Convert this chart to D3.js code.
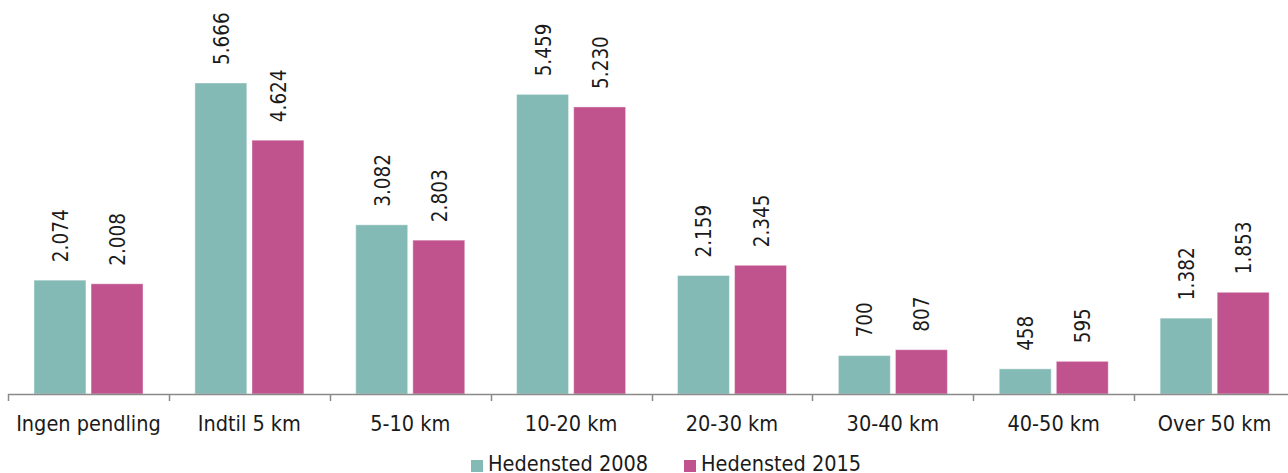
<!DOCTYPE html>
<html><head><meta charset="utf-8">
<script src="https://cdn.jsdelivr.net/npm/d3@7"></script>
<style>
html,body{margin:0;padding:0;background:#fff;}
svg text{font-family:"DejaVu Sans Condensed","DejaVu Sans",sans-serif;fill:#1a1a1a;}
</style></head>
<body>
<svg id="chart" width="1288" height="473"></svg>
<script>
const categories = ["Ingen pendling","Indtil 5 km","5-10 km","10-20 km","20-30 km","30-40 km","40-50 km","Over 50 km"];
const seriesNames = ["Hedensted 2008","Hedensted 2015"];
const values2008 = [2074,5666,3082,5459,2159,700,458,1382];
const values2015 = [2008,4624,2803,5230,2345,807,595,1853];
const valueLabels2008 = ["2.074","5.666","3.082","5.459","2.159","700","458","1.382"];
const valueLabels2015 = ["2.008","4.624","2.803","5.230","2.345","807","595","1.853"];
const colors = ["#84bab5","#c0538e"];

const svg = d3.select("#chart");
const baseY = 394;
const x = d3.scaleBand().domain(categories).range([8,1295]).paddingInner(0).paddingOuter(0);
const xs = d3.scaleBand().domain(seriesNames).range([26,135]).paddingInner(0.09);
const y = d3.scaleLinear().domain([0,5666]).range([baseY,83]);

const series = [values2008, values2015];
const labels = [valueLabels2008, valueLabels2015];

series.forEach((vals, si) => {
  const g = svg.append("g");
  g.selectAll("rect").data(categories).enter().append("rect")
    .attr("x", (c) => x(c) + xs(seriesNames[si]))
    .attr("width", xs.bandwidth())
    .attr("y", (c,i) => y(vals[i]))
    .attr("height", (c,i) => baseY - y(vals[i]))
    .attr("fill", colors[si])
    .attr("stroke", "#ffffff").attr("stroke-opacity",0.4).attr("stroke-width",1);
  g.selectAll("text").data(categories).enter().append("text")
    .attr("transform", (c,i) => {
      const cx = x(c) + xs(seriesNames[si]) + xs.bandwidth()/2 + 8;
      const cy = y(vals[i]) - 18;
      return `translate(${cx},${cy}) rotate(-90)`;
    })
    .attr("text-anchor","start")
    .style("font-size","20.5px")
    .text((c,i) => labels[si][i]);
});

// axis
const ag = svg.append("g").attr("transform",`translate(0,${baseY})`);
ag.append("line").attr("x1",8).attr("x2",1288).attr("y1",0.5).attr("y2",0.5).attr("stroke","#8a8a8a").attr("stroke-width",1.5);
ag.selectAll("line.tick").data(categories).enter().append("line")
  .attr("x1",c=>Math.round(x(c))+0.5).attr("x2",c=>Math.round(x(c))+0.5)
  .attr("y1",0).attr("y2",7).attr("stroke","#8a8a8a").attr("stroke-width",1.5);
ag.selectAll("text.cat").data(categories).enter().append("text")
  .attr("x",c=>x(c)+x.bandwidth()/2).attr("y",37)
  .attr("text-anchor","middle").style("font-size","21.5px").text(c=>c);

// legend
const legendX = [471, 684];
seriesNames.forEach((n,i)=>{
  svg.append("rect").attr("x",legendX[i]).attr("y",460).attr("width",12).attr("height",12).attr("fill",colors[i]);
  svg.append("text").attr("x",legendX[i]+17).attr("y",471).style("font-size","21.5px").text(n);
});
</script>
</body></html>
